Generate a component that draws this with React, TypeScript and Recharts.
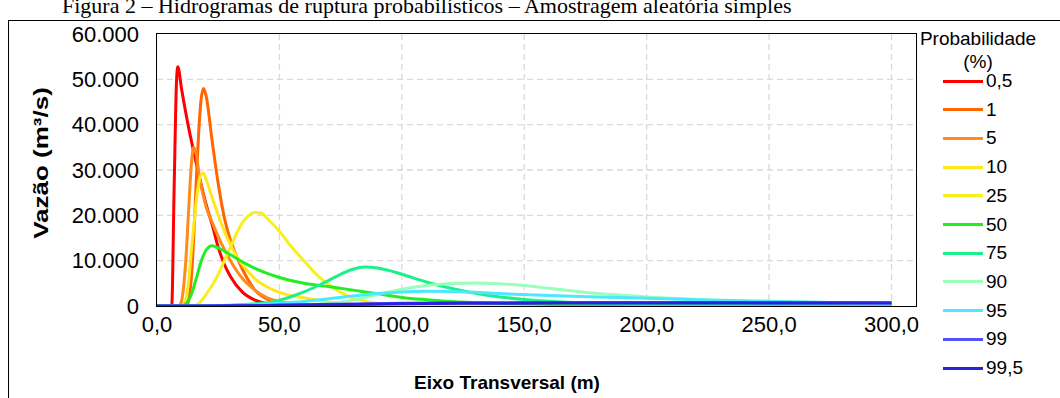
import React from 'react';
import { LineChart, Line, XAxis, YAxis, CartesianGrid } from 'recharts';

// probability classes (legend order = drawing order)
const PROBS = ['0,5', '1', '5', '10', '25', '50', '75', '90', '95', '99', '99,5'];
const COLORS = [
	'#ff0000',
	'#ff6600',
	'#ff8c1a',
	'#ffe81a',
	'#f5f01e',
	'#22ee22',
	'#1af08c',
	'#99ffbb',
	'#4de8ff',
	'#5050ff',
	'#2424e0',
];

const X_TICKS = [0, 50, 100, 150, 200, 250, 300];
const Y_TICKS = [0, 10000, 20000, 30000, 40000, 50000, 60000];

// [eixo transversal (m), vazão (m³/s)]
const q05 = [[0, 0], [6, 0], [7, 26000], [8, 50000], [8.5, 52800], [10, 48000], [12.5, 40500], [15, 34000], [17.5, 28000], [20, 22500], [22.5, 18000], [25, 13000], [27.5, 9200], [30, 6500], [35, 3000], [40, 1300], [45, 500], [50, 200], [60, 50], [80, 0], [300, 0]];
const q1 = [[0, 0], [12, 0], [13, 1500], [14, 6000], [15, 15000], [16, 27000], [17, 38000], [18, 45500], [19, 48000], [20, 46500], [22.5, 36500], [25, 27000], [27.5, 19500], [30, 14500], [32.5, 11000], [35, 8000], [37.5, 5500], [40, 3500], [45, 1500], [50, 700], [60, 200], [70, 50], [90, 0], [300, 0]];
const q5 = [[0, 0], [9, 0], [10, 1000], [11, 5000], [12, 12000], [13, 22000], [14, 31000], [15, 35000], [16, 33500], [17.5, 28000], [20, 22000], [22.5, 18500], [25, 15300], [27.5, 12500], [30, 10000], [35, 6000], [40, 3500], [45, 1800], [50, 1000], [60, 300], [70, 80], [90, 0], [300, 0]];
const q10 = [[0, 0], [10, 0], [11, 500], [12, 2000], [13, 6000], [14, 12000], [15, 17500], [16, 23000], [17, 27000], [18, 29000], [19, 29300], [20, 28000], [22.5, 24000], [25, 20000], [27.5, 16500], [30, 13500], [35, 9000], [40, 6000], [45, 4200], [50, 3000], [60, 1800], [70, 900], [80, 400], [100, 80], [120, 0], [300, 0]];
const q25 = [[0, 0], [15, 0], [17.5, 800], [20, 2500], [22.5, 4500], [25, 7000], [27.5, 10000], [30, 13000], [32.5, 16000], [35, 18500], [37.5, 20000], [40, 20600], [42.5, 20500], [45, 19300], [50, 16500], [55, 13000], [60, 10000], [65, 7000], [70, 4800], [75, 3000], [80, 1800], [90, 600], [100, 200], [120, 50], [140, 0], [300, 0]];
const q50 = [[0, 0], [10, 0], [12, 600], [14, 2500], [16, 6000], [18, 9800], [20, 12300], [22.5, 13300], [25, 12800], [30, 11300], [35, 9700], [40, 8300], [45, 7200], [50, 6300], [60, 5000], [70, 4300], [80, 3500], [90, 2700], [100, 1900], [110, 1400], [120, 1000], [140, 600], [160, 350], [200, 150], [250, 60], [300, 30]];
const q75 = [[0, 0], [20, 0], [30, 150], [40, 500], [45, 700], [50, 1300], [55, 2100], [60, 3100], [65, 4300], [70, 5600], [75, 7000], [80, 8100], [85, 8600], [90, 8400], [95, 7800], [100, 7000], [110, 5300], [120, 3900], [130, 2800], [140, 2000], [150, 1450], [160, 1050], [180, 600], [200, 350], [250, 120], [300, 50]];
const q90 = [[0, 0], [40, 0], [50, 150], [60, 300], [70, 600], [80, 1300], [90, 2500], [100, 3700], [110, 4500], [120, 4950], [130, 5100], [140, 4900], [150, 4500], [160, 3900], [170, 3300], [180, 2750], [190, 2350], [200, 2000], [225, 1350], [250, 1000], [275, 750], [300, 550]];
const q95 = [[0, 0], [20, 0], [30, 100], [40, 300], [50, 600], [60, 1000], [70, 1600], [80, 2200], [90, 2750], [100, 3100], [110, 3250], [120, 3200], [140, 2750], [160, 2300], [180, 2000], [200, 1700], [225, 1350], [250, 1050], [275, 750], [300, 600]];
const q99 = [[0, 0], [20, 0], [30, 50], [40, 100], [50, 200], [60, 300], [80, 450], [100, 600], [125, 700], [150, 750], [175, 780], [200, 780], [225, 760], [250, 740], [275, 720], [300, 700]];
const q995 = [[0, 0], [20, 0], [40, 80], [60, 200], [80, 350], [100, 480], [125, 580], [150, 630], [175, 650], [200, 660], [250, 650], [300, 640]];

const SERIES = [q05, q1, q5, q10, q25, q50, q75, q90, q95, q99, q995];

const fmtX = (v: number) => v.toFixed(1).replace('.', ',');
const fmtY = (v: number) => v.toLocaleString('de-DE');

const FONT = '"Liberation Sans", Arial, sans-serif';

export default function App() {
	return (
		<div
			style={{
				position: 'fixed',
				left: 0,
				top: 0,
				width: 1060,
				height: 398,
				background: '#fff',
				overflow: 'hidden',
				fontFamily: FONT,
				color: '#000',
			}}
		>
			{/* caption, cut at the top of the crop like in the source */}
			<div
				style={{
					position: 'absolute',
					left: 62,
					top: -5,
					fontFamily: '"Liberation Serif", "Times New Roman", serif',
					fontSize: 22,
					lineHeight: '22px',
					whiteSpace: 'nowrap',
				}}
			>
				Figura 2 – Hidrogramas de ruptura probabilísticos – Amostragem aleatória simples
			</div>

			{/* outer frame */}
			<div
				style={{
					position: 'absolute',
					left: 8,
					top: 20,
					width: 1200,
					height: 500,
					border: '1.5px solid #000',
				}}
			/>

			{/* plot area border */}
			<div
				style={{
					position: 'absolute',
					left: 156,
					top: 33,
					width: 761,
					height: 274,
					border: '1.5px solid #000',
					boxSizing: 'border-box',
				}}
			/>

			<div style={{ position: 'absolute', left: 0, top: 0 }}>
				<LineChart width={1060} height={398} margin={{ top: 34, right: 144, bottom: 62, left: 67 }}>
					<CartesianGrid
						strokeDasharray='6 4'
						stroke='#d9d9d9'
						strokeWidth={1.3}
						horizontalValues={[10000, 20000, 30000, 40000, 50000]}
						verticalValues={[50, 100, 150, 200, 250, 300]}
					/>
					<XAxis
						type='number'
						dataKey='x'
						domain={[0, 310]}
						ticks={X_TICKS}
						tickFormatter={fmtX}
						tick={{ fontSize: 22, fill: '#000', fontFamily: FONT }}
						tickLine={false}
						axisLine={false}
						tickMargin={4}
						height={30}
						allowDataOverflow
					/>
					<YAxis
						type='number'
						domain={[0, 60000]}
						ticks={Y_TICKS}
						tickFormatter={fmtY}
						tick={{ fontSize: 22, fill: '#000', fontFamily: FONT }}
						tickLine={false}
						axisLine={false}
						tickMargin={12}
						width={90}
						allowDataOverflow
					/>
					{SERIES.map((s, i) => (
						<Line
							key={PROBS[i]}
							name={PROBS[i]}
							data={s.map(([x, q]) => ({ x, q }))}
							dataKey='q'
							type='monotone'
							stroke={COLORS[i]}
							strokeWidth={3}
							dot={false}
							activeDot={false}
							isAnimationActive={false}
						/>
					))}
				</LineChart>
			</div>

			{/* axis titles */}
			<div
				style={{
					position: 'absolute',
					left: 41,
					top: 163,
					transform: 'translate(-50%, -50%) rotate(-90deg) scaleX(1.3)',
					fontWeight: 'bold',
					fontSize: 20,
					whiteSpace: 'nowrap',
				}}
			>
				Vazão (m³/s)
			</div>
			<div
				style={{
					position: 'absolute',
					left: 507,
					top: 383,
					transform: 'translate(-50%, -50%)',
					fontWeight: 'bold',
					fontSize: 19,
					whiteSpace: 'nowrap',
				}}
			>
				Eixo Transversal (m)
			</div>

			{/* legend */}
			<div
				style={{
					position: 'absolute',
					left: 917,
					top: 27,
					width: 122,
					textAlign: 'center',
					fontSize: 19,
					lineHeight: '23px',
				}}
			>
				Probabilidade
				<br />
				(%)
			</div>
			{PROBS.map((p, i) => (
				<div
					key={p}
					style={{
						position: 'absolute',
						left: 943,
						top: 81 + i * 28.7 - 11,
						height: 22,
						display: 'flex',
						alignItems: 'center',
						fontSize: 19,
						whiteSpace: 'nowrap',
					}}
				>
					<span style={{ display: 'inline-block', width: 40, height: 3, background: COLORS[i] }} />
					<span style={{ marginLeft: 3 }}>{p}</span>
				</div>
			))}
		</div>
	);
}
